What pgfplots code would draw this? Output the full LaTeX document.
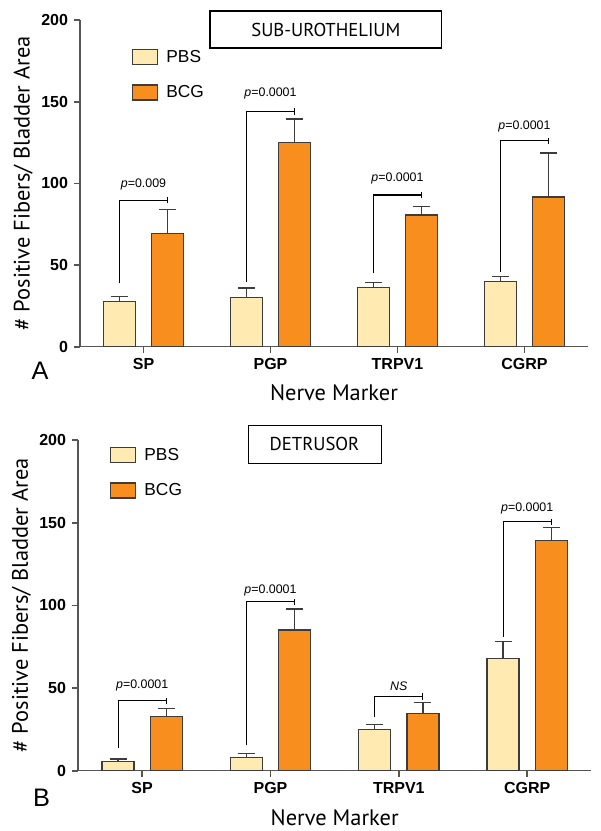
\documentclass[border=0pt]{standalone}
\usepackage{fontspec}
\setmainfont{Liberation Sans}
\newfontfamily\gill{PT Sans}
\usepackage{pgfplots}
\pgfplotsset{compat=1.18}
\definecolor{pbs}{RGB}{255,234,178}
\definecolor{bcg}{RGB}{247,142,30}
\definecolor{barline}{RGB}{60,60,60}
\definecolor{axisgray}{RGB}{85,85,85}
\pgfplotsset{
  myax/.style={
    scale only axis,
    xmin=-0.5, xmax=3.5, ymin=0, ymax=200,
    axis lines=left,
    axis line style={-, draw=axisgray, line width=1pt},
    xtick={0,1,2,3}, xticklabels={SP,PGP,TRPV1,CGRP},
    ytick={0,50,100,150,200},
    xtick style={draw=axisgray, line width=1.2pt},
    ytick style={draw=axisgray, line width=1.2pt},
    major tick style={draw=axisgray, line width=1.2pt},
    major tick length=4.5pt, tick align=outside,
    /pgf/number format/assume math mode=true,
    tick label style={font=\bfseries\fontsize{12}{14}\selectfont, black},
    yticklabel style={xshift=-1pt},
    xticklabel style={yshift=-1pt},
    xlabel={Nerve Marker},
    ylabel={\# Positive Fibers/ Bladder Area},
    label style={font=\gill\fontsize{16.8}{19}\selectfont},
    bar width=0.25,
    legend cell align=left,
    legend image code/.code={\draw[#1] (0pt,-5.6pt) rectangle (18.75pt,5.6pt);},
    clip=false,
  },
  barstyle/.style={ybar, bar shift=0, draw=barline, line width=1pt,
    error bars/y dir=plus, error bars/y explicit,
    error bars/error bar style={line width=1pt, draw=barline},
    error bars/error mark options={rotate=90, draw=barline, line width=1pt, mark size=6.4pt}},
}
\newcommand{\bracket}[5]{% x, bottom, top, label y, label
  \draw[black, line width=0.8pt] (axis cs:#1-0.188,#2) |- (axis cs:#1+0.188,#3);
  \draw[black, line width=0.8pt] ([yshift=-2.4pt]axis cs:#1+0.188,#3) -- ([yshift=2.4pt]axis cs:#1+0.188,#3);
  \node[font=\fontsize{9.3}{11}\selectfont, inner sep=0pt] at (axis cs:#1,#4) {#5};
}
\begin{document}
\begin{tikzpicture}[x=1pt,y=1pt]
\useasboundingbox (0,0) rectangle (450,623.25);
% Panel A
\begin{axis}[myax, at={(60pt,363.2pt)}, anchor=south west, width=381pt, height=245pt,
  xlabel style={at={(axis description cs:0.5,-0.142)}, anchor=center},
  ylabel style={at={(axis description cs:-0.112,0.5)}, anchor=center},
  legend style={draw=none, fill=none, at={(axis description cs:0.102,0.917)}, anchor=north west,
    font=\fontsize{13}{15}\selectfont, row sep=12pt, inner sep=0pt,
    nodes={inner xsep=6pt}}]
\addplot[barstyle, fill=pbs] coordinates {(-0.188,27.5) +- (0,3.3) (0.812,30.2) +- (0,5.8) (1.812,36.4) +- (0,2.8) (2.812,40) +- (0,3)};
\addlegendentry{PBS}
\addplot[barstyle, fill=bcg] coordinates {(0.188,69.4) +- (0,14.6) (1.188,124.9) +- (0,14.5) (2.188,80.6) +- (0,5.1) (3.188,91.6) +- (0,27)};
\addlegendentry{BCG}
\bracket{0}{38.8}{89.8}{99.6}{\textit{p}=0.009}
\bracket{1}{39.8}{143.9}{155}{\textit{p}=0.0001}
\bracket{2}{45}{92.9}{103}{\textit{p}=0.0001}
\bracket{3}{46}{126.1}{134.7}{\textit{p}=0.0001}
\end{axis}
\node[draw=black, line width=0.8pt, minimum width=173.8pt, minimum height=27.75pt, inner sep=0pt,
  font=\gill\fontsize{14}{16}\selectfont] at (244.4pt,601.1pt) {SUB-UROTHELIUM};
\node[font=\fontsize{19}{22}\selectfont, inner sep=0pt] at (30pt,345pt) {A};
% Panel B
\begin{axis}[myax, at={(58.5pt,45.2pt)}, anchor=south west, width=385pt, height=248pt,
  xlabel style={at={(axis description cs:0.5,-0.143)}, anchor=center},
  ylabel style={at={(axis description cs:-0.11,0.5)}, anchor=center},
  legend style={draw=none, fill=none, at={(axis description cs:0.062,0.985)}, anchor=north west,
    font=\fontsize{13}{15}\selectfont, row sep=12pt, inner sep=0pt,
    nodes={inner xsep=6pt}}]
\addplot[barstyle, fill=pbs] coordinates {(-0.188,5.4) +- (0,1.7) (0.812,8.1) +- (0,2.4) (1.812,24.8) +- (0,3.2) (2.812,68) +- (0,10)};
\addlegendentry{PBS}
\addplot[barstyle, fill=bcg] coordinates {(0.188,32.7) +- (0,5) (1.188,85.1) +- (0,12.7) (2.188,34.5) +- (0,6.6) (3.188,139.2) +- (0,7.8)};
\addlegendentry{BCG}
\bracket{0}{13.5}{42.3}{51.4}{\textit{p}=0.0001}
\bracket{1}{15.5}{102.2}{109.3}{\textit{p}=0.0001}
\bracket{2}{32.7}{44.8}{51.4}{\textit{NS}}
\bracket{3}{81}{150.6}{158.7}{\textit{p}=0.0001}
\end{axis}
\node[draw=black, line width=0.8pt, minimum width=99.75pt, minimum height=28.7pt, inner sep=0pt,
  font=\gill\fontsize{14}{16}\selectfont] at (235.9pt,290pt) {DETRUSOR};
\node[font=\fontsize{19}{22}\selectfont, inner sep=0pt] at (31.1pt,24.75pt) {B};
\end{tikzpicture}
\end{document}
